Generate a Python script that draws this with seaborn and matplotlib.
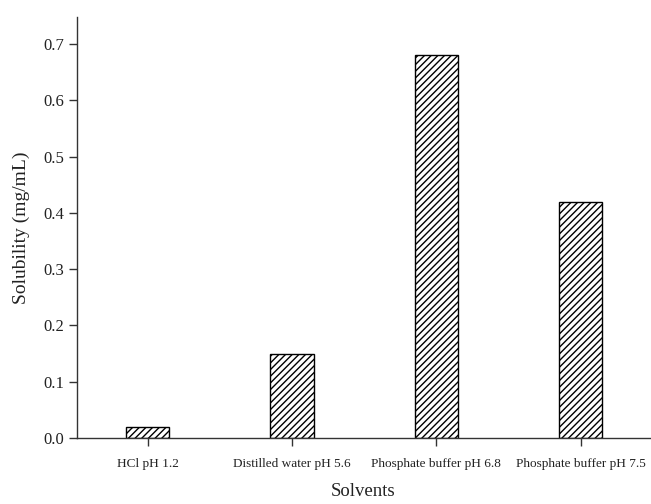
import matplotlib
matplotlib.use("Agg")
import matplotlib.pyplot as plt
import seaborn as sns
import pandas as pd

categories = ["HCl pH 1.2", "Distilled water pH 5.6", "Phosphate buffer pH 6.8", "Phosphate buffer pH 7.5"]
solubility = [0.02, 0.15, 0.68, 0.42]
yticks = [0.0, 0.1, 0.2, 0.3, 0.4, 0.5, 0.6, 0.7]

sns.set_theme(style="ticks")
plt.rcParams["font.family"] = ["Liberation Serif", "DejaVu Serif"]
plt.rcParams["hatch.linewidth"] = 1.0

df = pd.DataFrame({"Solvent": categories, "Solubility": solubility})

fig = plt.figure(figsize=(6.51, 5.04), dpi=100)
ax = fig.add_axes([77/651, 66/504, (650-77)/651, (438-17)/504])
sns.barplot(data=df, x="Solvent", y="Solubility", ax=ax, width=0.3,
            color="white", edgecolor="black", linewidth=1.0, hatch="/////")
ax.set_xlim(-0.49, 3.48)
ax.set_ylim(0, 0.748)
ax.set_yticks(yticks)
ax.set_yticklabels([f"{v:.1f}" for v in yticks])
for s in ["top", "right"]:
    ax.spines[s].set_visible(False)
for s in ["left", "bottom"]:
    ax.spines[s].set_color("#333333")
    ax.spines[s].set_linewidth(1.0)
ax.tick_params(axis="both", direction="out", length=6, width=1.0, color="#333333", labelcolor="#222222")
ax.tick_params(axis="x", labelsize=9.5, pad=8.5)
ax.tick_params(axis="y", labelsize=12, pad=3.5)
ax.set_xlabel("Solvents", fontsize=13.5, color="#222222")
ax.set_ylabel("Solubility (mg/mL)", fontsize=14, color="#222222")
ax.xaxis.set_label_coords(0.5, -(483 - 438) / 421)
ax.yaxis.set_label_coords((30 - 77) / 574, 0.5)
fig.savefig("out.png", dpi=100)
